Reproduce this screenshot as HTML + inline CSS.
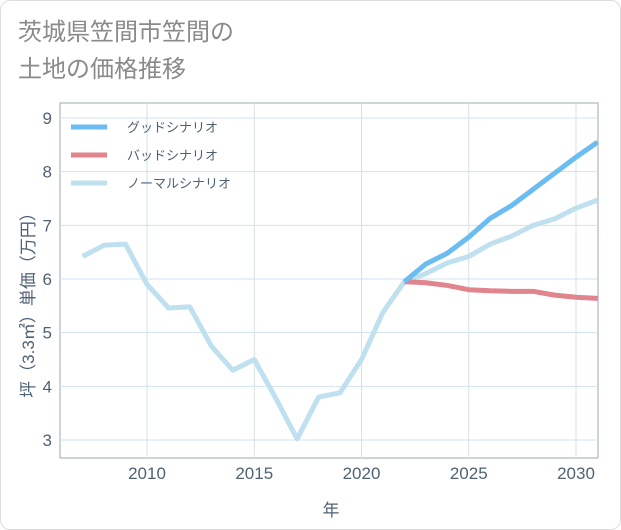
<!DOCTYPE html>
<html><head><meta charset="utf-8">
<style>
body{margin:0;background:#fff;}
#wrap{position:relative;width:619px;height:528px;border:1px solid #ddd;border-radius:10px;overflow:hidden;background:#fff;font-family:"Liberation Sans","Noto Sans CJK JP",sans-serif;}
#title{position:absolute;left:17px;top:13px;font-size:24px;line-height:37px;color:#8a8a8a;}
svg{position:absolute;left:0;top:0;}
</style></head><body>
<div id="wrap">
<div id="title">茨城県笠間市笠間の<br>土地の価格推移</div>
<svg id="chart" width="621" height="530"></svg>
</div>
<script>
const years=[2007,2008,2009,2010,2011,2012,2013,2014,2015,2016,2017,2018,2019,2020,2021,2022,2023,2024,2025,2026,2027,2028,2029,2030,2031];
const normalVals=[6.42,6.63,6.65,5.9,5.46,5.48,4.75,4.3,4.5,3.78,3.02,3.8,3.88,4.5,5.38,5.95,6.1,6.3,6.42,6.65,6.8,7.0,7.12,7.32,7.47];
const goodYears=[2022,2023,2024,2025,2026,2027,2028,2029,2030,2031];
const goodVals=[5.95,6.28,6.48,6.78,7.13,7.37,7.67,7.97,8.27,8.55];
const badVals=[5.95,5.93,5.88,5.8,5.78,5.77,5.77,5.7,5.66,5.64];
const xTicks=[2010,2015,2020,2025,2030];
const yTicks=[3,4,5,6,7,8,9];
const seriesNames=["グッドシナリオ","バッドシナリオ","ノーマルシナリオ"];

const L=59,R=597,T=102,B=457;
const x=v=>146+(v-2010)*(575-146)/20;
const y=v=>439-(v-3)*(439-117)/6;
const svg=document.getElementById('chart');
const NS='http://www.w3.org/2000/svg';
function mk(tag,attrs){const e=document.createElementNS(NS,tag);for(const k in attrs)e.setAttribute(k,attrs[k]);svg.appendChild(e);return e;}

const bg=mk('rect',{x:L,y:T,width:R-L,height:B-T,fill:'#fff',stroke:'#9aa',"stroke-width":1});


xTicks.forEach(t=>{
  const g=mk('line',{x1:x(t),x2:x(t),y1:T,y2:B,stroke:'#d3e2ec',"stroke-width":1});
  
  
  const tx=mk('text',{x:x(t),y:478,"text-anchor":'middle',"font-size":17,fill:'#4f6275'});
  tx.textContent=t;
  
  
});
yTicks.forEach(t=>{
  const g=mk('line',{x1:L,x2:R,y1:y(t),y2:y(t),stroke:'#d3e2ec',"stroke-width":1});
  
  
  const tx=mk('text',{x:51,y:y(t)+6,"text-anchor":'end',"font-size":17,fill:'#4f6275'});
  tx.textContent=t;
  
  
});
const xt=mk('text',{x:330,y:515,"text-anchor":'middle',"font-size":17,fill:'#4f6275'});
xt.textContent='年';


const yt=mk('text',{x:0,y:0,"text-anchor":'middle',"font-size":17,fill:'#4f6275',transform:'translate(33,300) rotate(-90)'});
yt.textContent='坪（3.3㎡）単価（万円）';



const clip=mk('clipPath',{id:'c'});
const cr=document.createElementNS(NS,'rect');cr.setAttribute('x',L);cr.setAttribute('y',T);cr.setAttribute('width',R-L);cr.setAttribute('height',B-T);clip.appendChild(cr);
function line(xs,vs,color,name){
  const p=mk('polyline',{points:xs.map((v,i)=>x(v)+','+y(vs[i])).join(' '),fill:'none',stroke:color,"stroke-width":5,"stroke-linejoin":'round','clip-path':'url(#c)'});
  
  
}
line(years,normalVals,'#bfe0ee','normal-scenario-line');
line(goodYears,badVals,'#e0848e','bad-scenario-line');
line(goodYears,goodVals,'#6bbcf0','good-scenario-line');

const colors=['#6bbcf0','#e0848e','#bfe0ee'];
seriesNames.forEach((n,i)=>{
  const yy=126+i*28;
  const l=mk('line',{x1:70,x2:106,y1:yy,y2:yy,stroke:colors[i],"stroke-width":5});
  
  
  const t=mk('text',{x:126,y:yy+5,"font-size":13,fill:'#4f6275'});
  t.textContent=n;
  
  
});
</script>
</body></html>
